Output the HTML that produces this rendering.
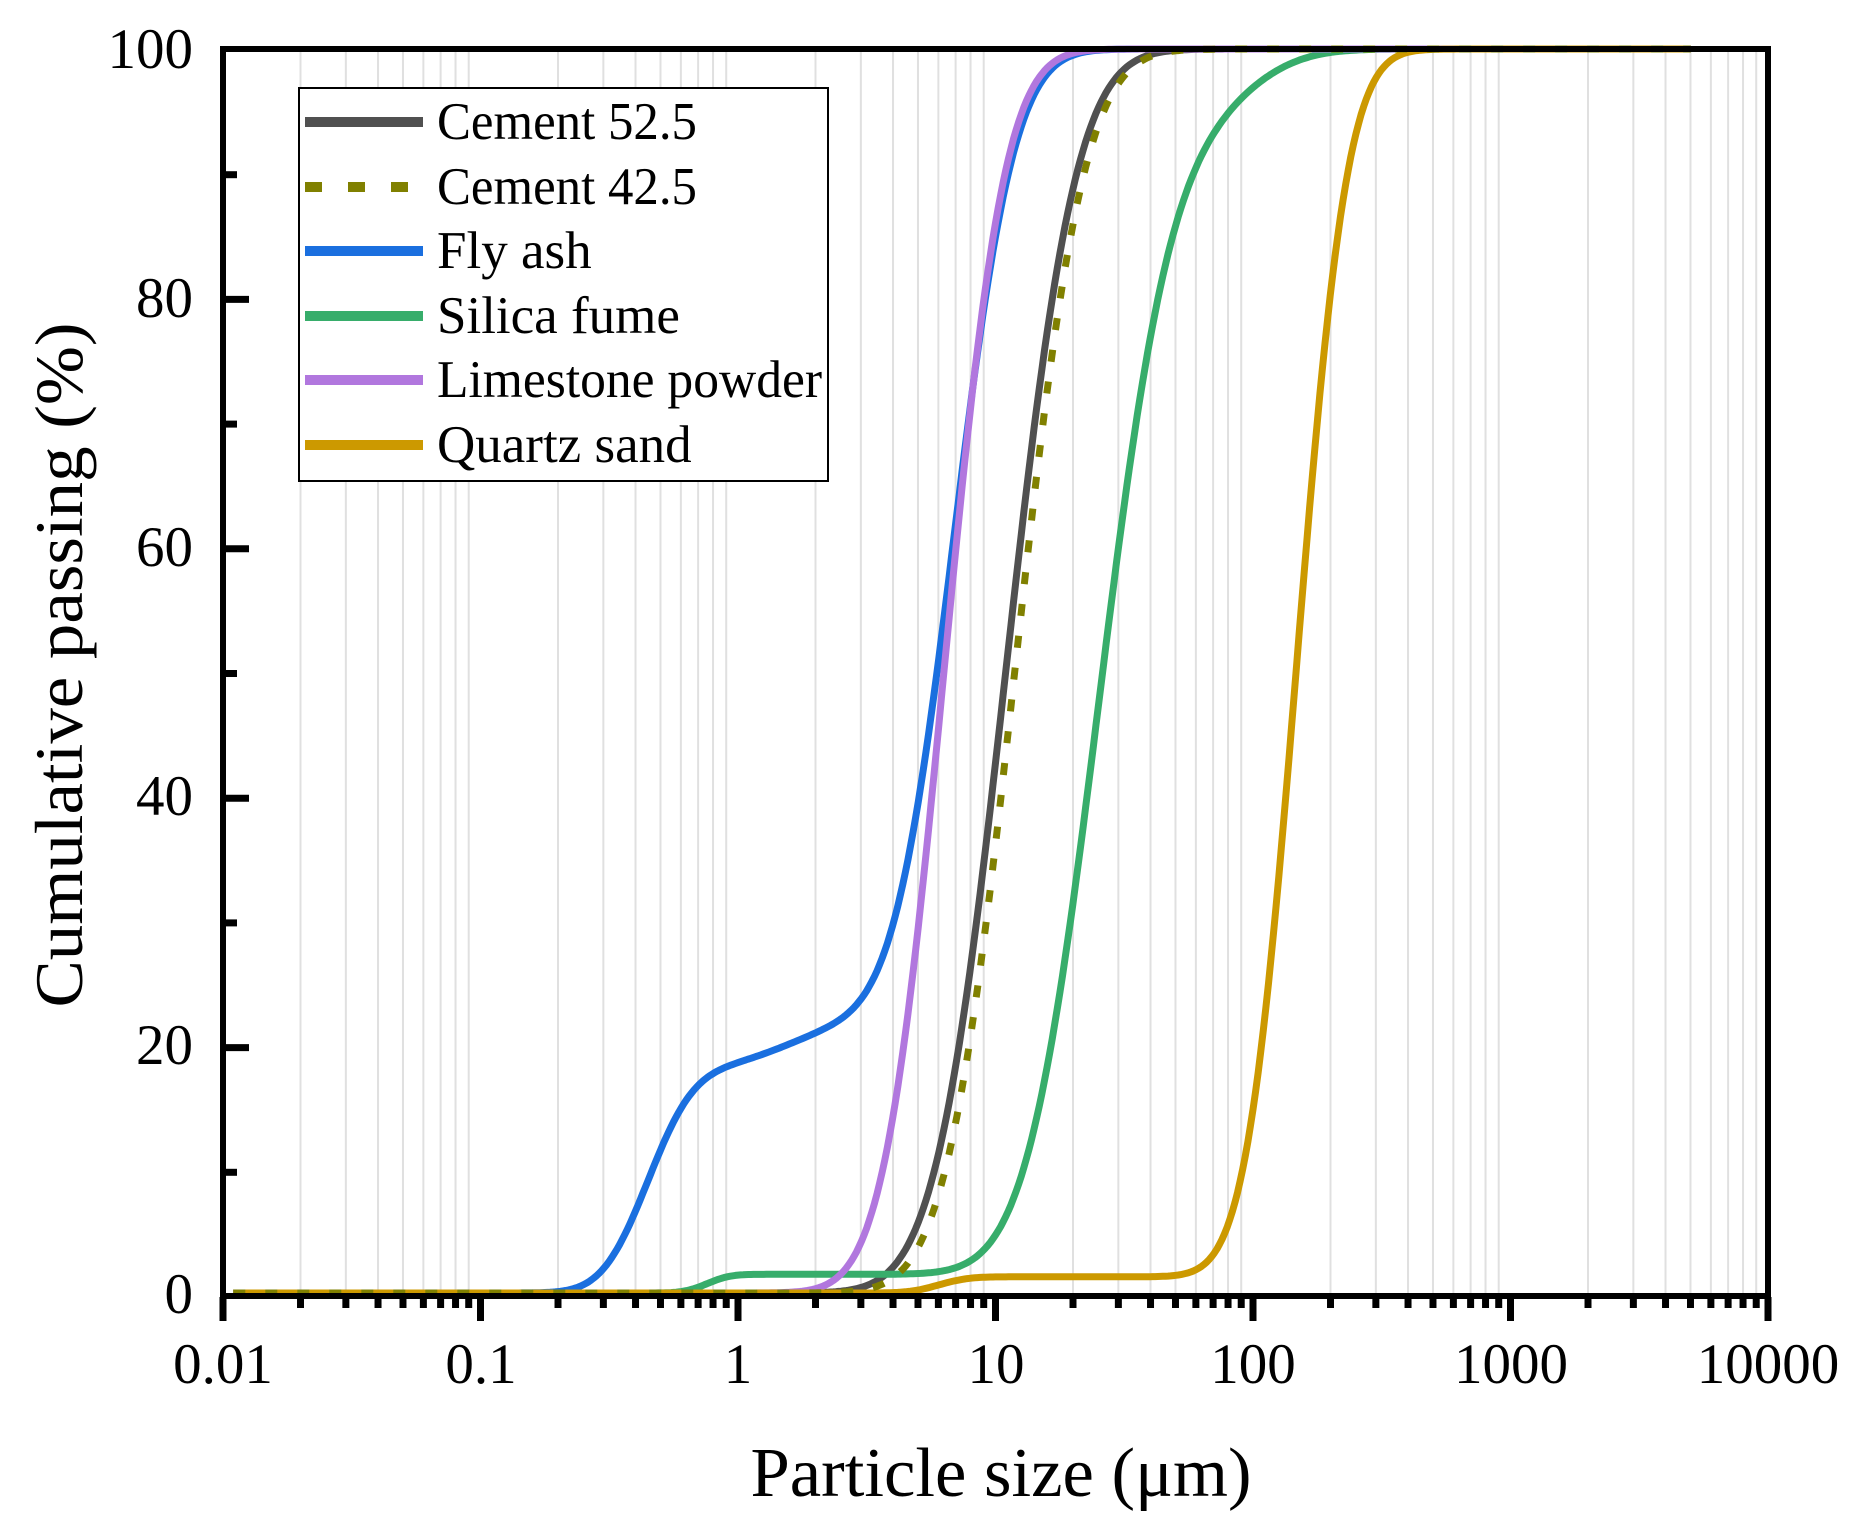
<!DOCTYPE html>
<html><head><meta charset="utf-8"><style>
html,body{margin:0;padding:0;background:#fff;}
svg{display:block;font-family:"Liberation Serif",serif;}
</style></head><body>
<svg id="s" width="1860" height="1518" viewBox="0 0 1860 1518" xmlns="http://www.w3.org/2000/svg">
<g id="grid" stroke="#e0e0e0" stroke-width="2"></g>
<g id="curves" fill="none" stroke-width="7" stroke-linejoin="round"></g>
<g id="ticks" stroke="#000" stroke-width="7"></g>
<rect x="223" y="49" width="1545" height="1247" fill="none" stroke="#000" stroke-width="6"/>
<g font-size="57" fill="#000" text-anchor="middle">
<text x="223" y="1383">0.01</text><text x="481" y="1383">0.1</text><text x="738" y="1383">1</text>
<text x="996" y="1383">10</text><text x="1253" y="1383">100</text><text x="1511" y="1383">1000</text><text x="1768" y="1383">10000</text>
</g>
<g font-size="57" fill="#000" text-anchor="end">
<text x="193" y="1313">0</text><text x="193" y="1064">20</text><text x="193" y="815">40</text>
<text x="193" y="566">60</text><text x="193" y="317">80</text><text x="193" y="68">100</text>
</g>
<text x="1001" y="1496" font-size="70" text-anchor="middle" textLength="501" lengthAdjust="spacingAndGlyphs">Particle size (μm)</text>
<text transform="translate(82,665) rotate(-90)" font-size="68" text-anchor="middle" textLength="685" lengthAdjust="spacingAndGlyphs">Cumulative passing (%)</text>
<rect x="299" y="88" width="529" height="393" fill="#fff" stroke="#000" stroke-width="2"/>
<g stroke-width="10">
<line x1="305" y1="122" x2="423" y2="122" stroke="#505050"/>
<line x1="305" y1="187" x2="423" y2="187" stroke="#808000" stroke-dasharray="17 26"/>
<line x1="305" y1="251" x2="423" y2="251" stroke="#1a6fdf"/>
<line x1="305" y1="316" x2="423" y2="316" stroke="#37ad6b"/>
<line x1="305" y1="380" x2="423" y2="380" stroke="#b177de"/>
<line x1="305" y1="445" x2="423" y2="445" stroke="#cc9900"/>
</g>
<g font-size="53" fill="#000">
<text x="437" y="139" textLength="260" lengthAdjust="spacingAndGlyphs">Cement 52.5</text>
<text x="437" y="204" textLength="260" lengthAdjust="spacingAndGlyphs">Cement 42.5</text>
<text x="437" y="268">Fly ash</text>
<text x="437" y="333">Silica fume</text>
<text x="437" y="397" textLength="385" lengthAdjust="spacingAndGlyphs">Limestone powder</text>
<text x="437" y="462">Quartz sand</text>
</g>
</svg>
<script>
(function(){
var NS="http://www.w3.org/2000/svg";
var L=223,D=257.5,Y0=1293,YS=12.44;
function X(lg){return L+(lg+2)*D;}
function Yp(p){return Y0-p*YS;}
function erf(x){var s=x<0?-1:1;x=Math.abs(x);var t=1/(1+0.3275911*x);
var y=1-(((((1.061405429*t-1.453152027)*t)+1.421413741)*t-0.284496736)*t+0.254829592)*t*Math.exp(-x*x);return s*y;}
function cdf(lg,m,s){return 0.5*(1+erf((lg-m)/(s*Math.SQRT2)));}
function el(n,a,p){var e=document.createElementNS(NS,n);for(var k in a)e.setAttribute(k,a[k]);p.appendChild(e);return e;}
var grid=document.getElementById('grid'),ticks=document.getElementById('ticks');
for(var dcd=-2;dcd<4;dcd++){for(var k=1;k<10;k++){var x=X(dcd+Math.log10(k));
if(k>1)el('line',{x1:x,y1:52,x2:x,y2:1293},grid);
el('line',{x1:x,y1:1297,x2:x,y2:k==1?1321:1308},ticks);}}
el('line',{x1:X(4),y1:1297,x2:X(4),y2:1321},ticks);
for(var i=0;i<=10;i++){var y=1297-i*124.7;if(i>0&&i<10)el('line',{x1:223,y1:y,x2:i%2==0?249:237,y2:y},ticks);}
function comps(c){return function(lg){var p=0;c.forEach(function(q){p+=q[0]*cdf(lg,q[1],q[2]);});return p;};}
var series=[
["#505050",comps([[100,1.04,0.215]]),null],
["#1a6fdf",comps([[18,-0.35,0.14],[4,0.2,0.2],[78,0.84,0.185]]),null],
["#37ad6b",comps([[1.5,-0.12,0.07],[91.5,1.40,0.22],[7,1.95,0.2]]),null],
["#b177de",comps([[100,0.80,0.185]]),null],
["#cc9900",comps([[1.3,0.78,0.09],[98.7,2.17,0.155]]),null],
["#808000",comps([[100,1.075,0.21]]),"12 20"]
];
var cg=document.getElementById('curves');
series.forEach(function(s){var d="";for(var lg=-1.96;lg<=3.7001;lg+=0.01){var p=Math.min(100,s[1](lg));d+=(d?"L":"M")+X(lg).toFixed(1)+","+Yp(p).toFixed(1);}
var a={d:d,stroke:s[0]};if(s[2])a["stroke-dasharray"]=s[2];el('path',a,cg);});
})();
</script>
</body></html>
